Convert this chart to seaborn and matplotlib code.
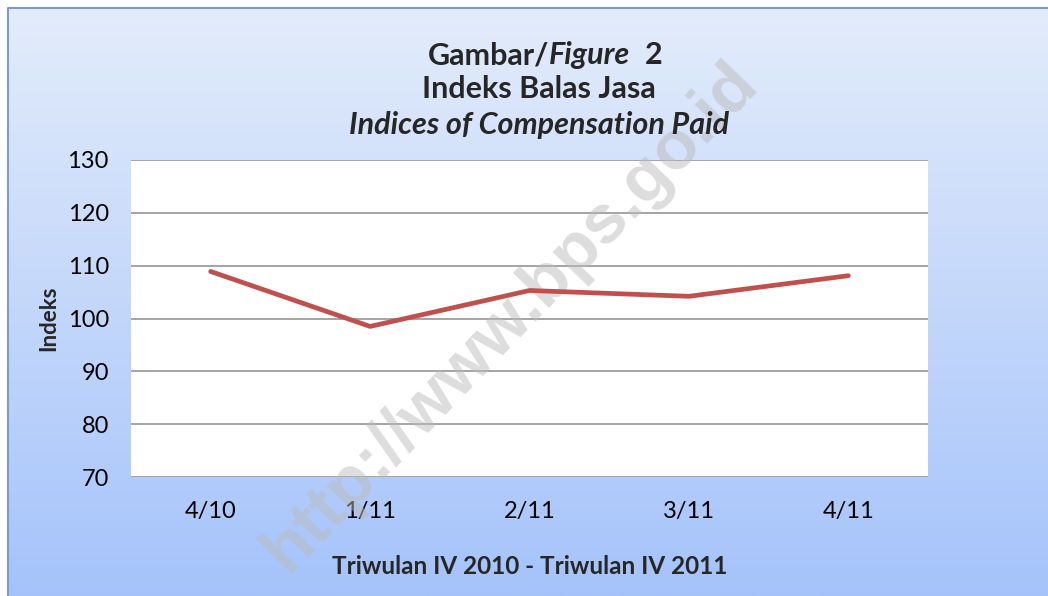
import numpy as np
import pandas as pd
import seaborn as sns
import matplotlib.pyplot as plt
from matplotlib.colors import LinearSegmentedColormap

# data
quarters = ['4/10', '1/11', '2/11', '3/11', '4/11']
index_values = [108.9, 98.5, 105.3, 104.2, 108.1]
y_ticks = [70, 80, 90, 100, 110, 120, 130]

df = pd.DataFrame({'quarter': quarters, 'indeks': index_values})

sns.set_style('white')
plt.rcParams['font.family'] = ['Lato', 'DejaVu Sans']

fig = plt.figure(figsize=(10.48, 5.96), dpi=100)

# gradient background with a thin frame
bg = fig.add_axes([0, 0, 1, 1], zorder=-5)
cmap = LinearSegmentedColormap.from_list('bg', ['#E3ECFB', '#A5C3FA'])
grad = np.linspace(0, 1, 256).reshape(-1, 1)
bg.imshow(grad, aspect='auto', cmap=cmap, extent=[8, 1048, 596, 8])
bg.plot([8, 8, 1048], [596, 8, 8], color='#7F9CC8', lw=1.5)
bg.set_xlim(0, 1048)
bg.set_ylim(596, 0)
bg.axis('off')

ax = fig.add_axes([131 / 1048, 1 - 477 / 596, 797 / 1048, 317 / 596])
ax.set_facecolor('white')
sns.lineplot(data=df, x='quarter', y='indeks', ax=ax, color='#C0504D',
             lw=3.4, sort=False, zorder=3)
ax.set_xlim(-0.5, 4.5)
ax.set_ylim(70, 130)
ax.set_yticks(y_ticks)
ax.yaxis.grid(True, color='#8C8C8C', lw=1.1)
ax.set_axisbelow(True)
for s in ax.spines.values():
    s.set_visible(False)
ax.tick_params(axis='both', length=0, labelsize=17, colors='black')
ax.tick_params(axis='y', pad=16)
ax.tick_params(axis='x', pad=17)
ax.set_xlabel('Triwulan IV 2010 - Triwulan IV 2011', fontsize=17.5,
              fontweight='bold', labelpad=24)
ax.set_ylabel('Indeks', fontsize=16, fontweight='bold', labelpad=6)

# title with mixed upright / italic parts
fs = 22
fig.canvas.draw()
r = fig.canvas.get_renderer()
t1 = fig.text(0.524, 0.907, 'Gambar/', ha='right', va='center',
              fontsize=fs, fontweight='bold')
t2 = fig.text(0.524, 0.907, 'Figure', ha='left', va='center',
              fontsize=fs, fontweight='bold', style='italic')
ext = t2.get_window_extent(renderer=r)
fig.text(ext.x1 / fig.bbox.width + 0.014, 0.907, '2', ha='left', va='center',
         fontsize=fs, fontweight='bold')
fig.text(0.514, 0.850, 'Indeks Balas Jasa', ha='center', va='center',
         fontsize=fs, fontweight='bold')
fig.text(0.514, 0.791, 'Indices of Compensation Paid', ha='center',
         va='center', fontsize=fs, fontweight='bold', style='italic')

# watermark, under the data line
ax.text(0.487, 0.468, 'http://www.bps.go.id', transform=fig.transFigure,
        ha='center', va='center', rotation=46, rotation_mode='anchor',
        fontsize=50, family='Liberation Sans', fontweight='bold',
        color='#BBBBBB', alpha=0.5, zorder=2, clip_on=False)

fig.savefig('out.png', dpi=100)
